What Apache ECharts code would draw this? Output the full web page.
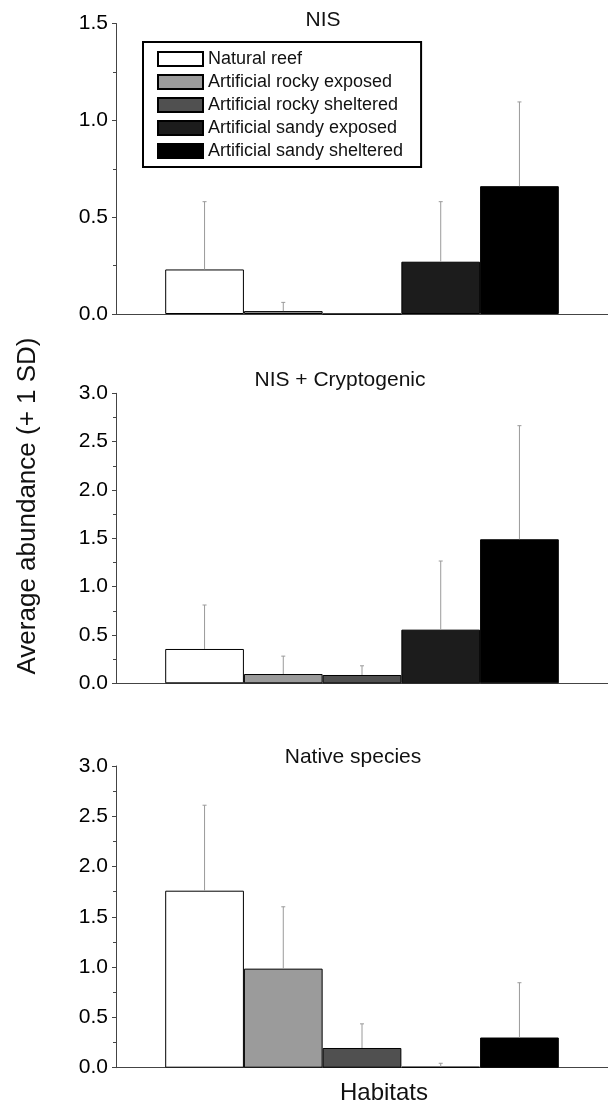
<!DOCTYPE html>
<html>
<head>
<meta charset="utf-8">
<script src="https://cdn.jsdelivr.net/npm/echarts@6/dist/echarts.min.js"></script>
<style>
html,body{margin:0;padding:0;background:#fff;}
#c{width:608px;height:1107px;}
</style>
</head>
<body>
<div id="c"></div>
<script>
// ---- data ----
const habitats = ['Natural reef', 'Artificial rocky exposed', 'Artificial rocky sheltered', 'Artificial sandy exposed', 'Artificial sandy sheltered'];
const panelTitles = ['NIS', 'NIS + Cryptogenic', 'Native species'];
const nisMean = [0.23, 0.015, 0, 0.27, 0.66];
const nisSD = [0.35, 0.045, 0, 0.31, 0.435];
const cryptMean = [0.355, 0.096, 0.086, 0.555, 1.49];
const cryptSD = [0.455, 0.185, 0.095, 0.71, 1.175];
const nativeMean = [1.76, 0.985, 0.196, 0.01, 0.30];
const nativeSD = [0.85, 0.615, 0.24, 0.034, 0.545];
const yMax = [1.5, 3.0, 3.0];
const yInterval = [0.5, 0.5, 0.5];
const yAxisTitle = 'Average abundance (+ 1 SD)';
const xAxisTitle = 'Habitats';

// ---- styles ----
const colors = ['#ffffff', '#9b9b9b', '#505050', '#1c1c1c', '#000000'];
const FONT = "'Liberation Sans', Arial, Helvetica, sans-serif";
const grids = [
  {left: 116, right: 0, top: 23.5, height: 290.5},
  {left: 116, right: 0, top: 393.3, height: 290},
  {left: 116, right: 0, top: 766, height: 301.7}
];
const titlePos = [[323, 20], [340, 380], [353, 757]];
const means = [nisMean, cryptMean, nativeMean];
const sds = [nisSD, cryptSD, nativeSD];

const chart = echarts.init(document.getElementById('c'), null, {renderer: 'canvas'});

const xAxes = grids.map((g, p) => ({
  type: 'category', gridIndex: p, data: [''],
  axisLine: {show: true, lineStyle: {color: '#444', width: 1}},
  axisTick: {show: false}, axisLabel: {show: false}, splitLine: {show: false}
}));
const yAxes = grids.map((g, p) => ({
  type: 'value', gridIndex: p, min: 0, max: yMax[p], interval: yInterval[p],
  axisLine: {show: true, lineStyle: {color: '#444', width: 1}},
  axisTick: {show: true, inside: false, length: 4, lineStyle: {color: '#444'}},
  minorTick: {show: true, splitNumber: 2, length: 3, lineStyle: {color: '#444'}},
  splitLine: {show: false},
  axisLabel: {show: true, margin: 8, fontSize: 21, color: '#000', fontFamily: FONT,
    formatter: v => v.toFixed(1)}
}));

const series = [];
for (let p = 0; p < 3; p++) {
  habitats.forEach((h, i) => {
    series.push({
      type: 'bar', name: h, xAxisIndex: p, yAxisIndex: p,
      data: [means[p][i]],
      barGap: '0%', barCategoryGap: '20%',
      itemStyle: {color: colors[i], borderColor: '#000', borderWidth: 1},
      emphasis: {disabled: true}, z: 2
    });
  });
  const n = habitats.length;
  series.push({
    type: 'custom', xAxisIndex: p, yAxisIndex: p, z: 3,
    encode: {x: 0, y: 1},
    data: habitats.map((h, i) => [0, means[p][i], sds[p][i], i]),
    renderItem: function (params, api) {
      const m = api.value(1), sd = api.value(2), idx = api.value(3);
      if (!sd) return null;
      const base = api.coord([0, m]);
      const top = api.coord([0, m + sd]);
      const band = api.size([1, 0])[0];
      const bw = band * 0.8 / n;
      const cx = base[0] + (idx - (n - 1) / 2) * bw;
      const st = {stroke: '#9a9a9a', lineWidth: 1};
      return {type: 'group', children: [
        {type: 'line', shape: {x1: cx, y1: base[1], x2: cx, y2: top[1]}, style: st},
        {type: 'line', shape: {x1: cx - 2, y1: top[1], x2: cx + 2, y2: top[1]}, style: st}
      ]};
    }
  });
}

const graphics = panelTitles.map((t, p) => ({
  type: 'text', x: titlePos[p][0], y: titlePos[p][1],
  style: {text: t, fontSize: 21, fontFamily: FONT, fill: '#111', align: 'center', verticalAlign: 'middle'}
}));
graphics.push({
  type: 'text', x: 28, y: 506, rotation: Math.PI / 2,
  style: {text: yAxisTitle, fontSize: 26, fontFamily: FONT, fill: '#111', align: 'center', verticalAlign: 'middle'}
});
graphics.push({
  type: 'text', x: 384, y: 1093,
  style: {text: xAxisTitle, fontSize: 24, fontFamily: FONT, fill: '#111', align: 'center', verticalAlign: 'middle'}
});

chart.setOption({
  animation: false,
  backgroundColor: '#fff',
  grid: grids,
  xAxis: xAxes,
  yAxis: yAxes,
  legend: {
    data: habitats, orient: 'vertical', left: 143, top: 42,
    icon: 'rect', itemWidth: 45, itemHeight: 14, itemGap: 5,
    padding: [8, 18, 7, 14],
    borderColor: '#000', borderWidth: 2, backgroundColor: '#fff',
    textStyle: {fontSize: 18, color: '#111', fontFamily: FONT},
    selectedMode: false
  },
  series: series,
  graphic: graphics
});
</script>
</body>
</html>
